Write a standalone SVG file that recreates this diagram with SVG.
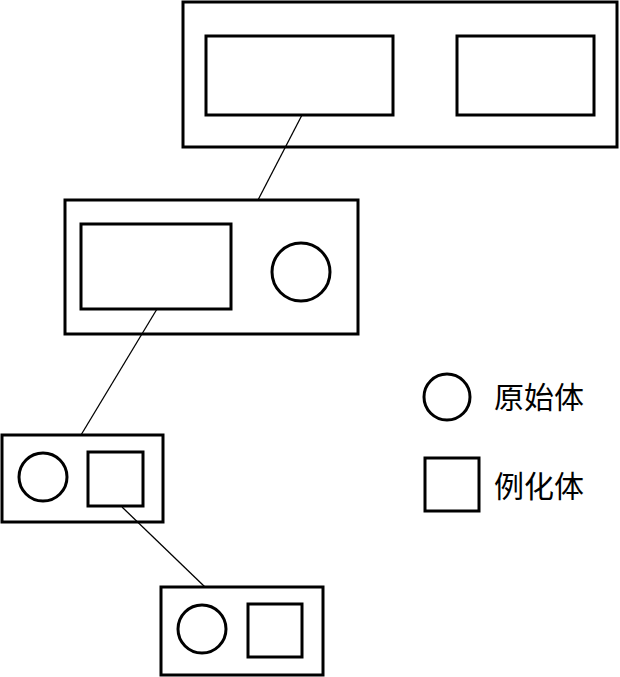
<svg xmlns="http://www.w3.org/2000/svg" width="620" height="677" viewBox="0 0 620 677">
<style>
.b{fill:none;stroke:#000;stroke-width:3}
.c{fill:none;stroke:#000;stroke-width:1.3}
.t{font-family:"Liberation Serif","Noto Sans CJK SC",serif;font-size:30px;fill:#000}
</style>
<rect width="620" height="677" fill="#fff"/>
<g id="connectors">
<line class="c" x1="302" y1="115" x2="258" y2="200"/>
<line class="c" x1="157" y1="309" x2="81" y2="435"/>
<line class="c" x1="122" y1="507" x2="205" y2="587"/>
</g>
<g id="node1">
<rect class="b" x="183" y="2" width="434" height="145"/>
<rect class="b" x="206" y="36" width="187" height="79"/>
<rect class="b" x="457" y="36" width="137" height="79"/>
</g>
<g id="node2">
<rect class="b" x="65" y="200" width="293" height="134"/>
<rect class="b" x="81" y="224" width="150" height="85"/>
<circle class="b" cx="301" cy="272" r="29"/>
</g>
<g id="node3">
<rect class="b" x="2" y="435" width="161" height="87"/>
<circle class="b" cx="43" cy="477" r="24"/>
<rect class="b" x="88" y="452" width="55" height="54"/>
</g>
<g id="node4">
<rect class="b" x="161" y="587" width="162" height="88"/>
<circle class="b" cx="202" cy="629" r="24"/>
<rect class="b" x="248" y="604" width="54" height="53"/>
</g>
<g id="legend">
<circle class="b" cx="447" cy="397" r="23"/>
<text class="t" x="494" y="408">原始体</text>
<rect class="b" x="425" y="458" width="54" height="53"/>
<text class="t" x="494" y="497">例化体</text>
</g>
</svg>
